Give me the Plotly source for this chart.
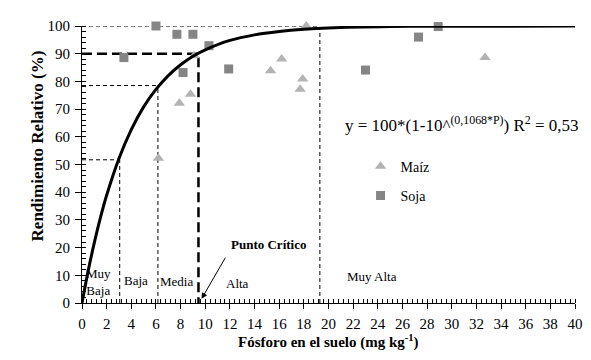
import plotly.graph_objects as go

# Data
maiz_P = [6.2, 7.9, 8.8, 9.1, 15.3, 16.2, 17.7, 17.9, 18.2, 32.7]
maiz_Y = [52.3, 72.1, 75.4, 89.3, 83.8, 88.1, 77.2, 80.9, 100.0, 88.6]
soja_P = [3.4, 6.0, 7.7, 8.2, 9.0, 10.3, 11.9, 23.0, 27.3, 28.9]
soja_Y = [88.6, 100.0, 97.0, 83.2, 97.0, 92.9, 84.5, 84.1, 96.0, 99.8]

curve_P = [0, 0.5, 1, 1.5, 2, 3, 4, 5, 6, 7, 8, 9, 10, 12, 14, 16, 18, 20, 25, 30, 40]
curve_Y = [0, 11.6, 21.8, 30.9, 38.9, 52.2, 62.6, 70.8, 77.1, 82.1, 86.0, 89.1, 91.4,
           94.8, 96.8, 98.0, 98.8, 99.3, 99.8, 99.9, 100]

# Class limits (P) and the yield at each limit
limit_P = [3.06, 6.16, 9.45, 19.3]
limit_Y = [51.7, 78.5, 90.0, 99.0]
critical_idx = 2

class_labels = ["Muy<br>Baja", "Baja", "Media", "Alta", "Muy Alta"]
class_label_P = [1.35, 4.4, 7.7, 12.6, 23.5]
class_label_Y = [7.5, 8.3, 7.9, 7.2, 9.4]

FONT = "Liberation Serif"

fig = go.Figure()

# thin dashed reference lines
for i, (p, yv) in enumerate(zip(limit_P, limit_Y)):
    if i == critical_idx:
        continue
    hy = 100 if i == 3 else yv
    fig.add_trace(go.Scatter(x=[0, p], y=[hy, hy], mode="lines",
                             line=dict(color="black", width=1, dash="4px,3px"),
                             showlegend=False, hoverinfo="skip"))
    fig.add_trace(go.Scatter(x=[p, p], y=[0, yv], mode="lines",
                             line=dict(color="black", width=1, dash="4px,3px"),
                             showlegend=False, hoverinfo="skip"))

# thick dashed critical level
pc, yc = limit_P[critical_idx], limit_Y[critical_idx]
fig.add_trace(go.Scatter(x=[0, pc, pc], y=[yc, yc, 0], mode="lines",
                         line=dict(color="black", width=2.5, dash="10px,5px"),
                         showlegend=False, hoverinfo="skip"))

fig.add_trace(go.Scatter(x=maiz_P, y=maiz_Y, mode="markers", name="Maíz",
                         legendgroup="a",
                         marker=dict(symbol="triangle-up", size=10, color="#b3b3b3"),
                         cliponaxis=False))
fig.add_trace(go.Scatter(x=soja_P, y=soja_Y, mode="markers", name="Soja",
                         legendgroup="b",
                         marker=dict(symbol="square", size=9, color="#858585"),
                         cliponaxis=False))

fig.add_trace(go.Scatter(x=curve_P, y=curve_Y, mode="lines", line_shape="spline",
                         line=dict(color="black", width=3), showlegend=False,
                         hoverinfo="skip", cliponaxis=False))

for t, px, py in zip(class_labels, class_label_P, class_label_Y):
    fig.add_annotation(x=px, y=py, text=t, showarrow=False,
                       font=dict(family=FONT, size=13, color="black"))

fig.add_annotation(x=pc + 0.25, y=1.5, ax=11.7, ay=16.9, axref="x", ayref="y",
                   text="", showarrow=True, arrowhead=2, arrowsize=1.2, arrowwidth=1,
                   arrowcolor="black")
fig.add_annotation(x=15.1, y=21, text="<b>Punto Crítico</b>", showarrow=False,
                   font=dict(family=FONT, size=13, color="black"))

fig.add_annotation(x=21.2, y=64.5, xanchor="left",
                   text="y = 100*(1-10^<sup>(0,1068*P)</sup>) R<sup>2</sup> = 0,53",
                   showarrow=False, font=dict(family=FONT, size=17, color="black"))

# axis titles
fig.add_annotation(xref="paper", yref="paper", x=-0.1136, y=0.567, textangle=-90,
                   text="<b>Rendimiento Relativo (%)</b>", showarrow=False,
                   font=dict(family=FONT, size=17, color="black"))
fig.add_annotation(xref="paper", yref="paper", x=0.5, y=-0.18,
                   text="<b>Fósforo en el suelo (mg kg<sup>-1</sup>)</b>", showarrow=False,
                   font=dict(family=FONT, size=15, color="black"))

fig.update_layout(
    width=591, height=360,
    margin=dict(l=74, r=24, t=18, b=65, autoexpand=False),
    plot_bgcolor="white", paper_bgcolor="white",
    font=dict(family=FONT, size=15, color="black"),
    legend=dict(x=0.565, y=0.55, xanchor="left", yanchor="top",
                font=dict(family=FONT, size=14), tracegroupgap=8,
                traceorder="grouped", bgcolor="rgba(0,0,0,0)"),
    xaxis=dict(range=[0, 40], tickmode="linear", tick0=0, dtick=2, automargin=False,
               showgrid=False, zeroline=False, showline=True, linecolor="black",
               linewidth=1, ticks="outside", ticklen=5, tickcolor="black",
               tickfont=dict(size=15),
               minor=dict(dtick=0.4, ticks="inside", ticklen=4, tickcolor="black"),
               ticklabelstandoff=2),
    yaxis=dict(range=[0, 100], tickmode="linear", tick0=0, dtick=10, automargin=False,
               showgrid=False, zeroline=False, showline=True, linecolor="black",
               linewidth=1, ticks="outside", ticklen=6, tickcolor="black",
               tickfont=dict(size=15),
               minor=dict(dtick=2, ticks="inside", ticklen=4, tickcolor="black"),
               ticklabelstandoff=2),
)

fig.write_html("out.html")
